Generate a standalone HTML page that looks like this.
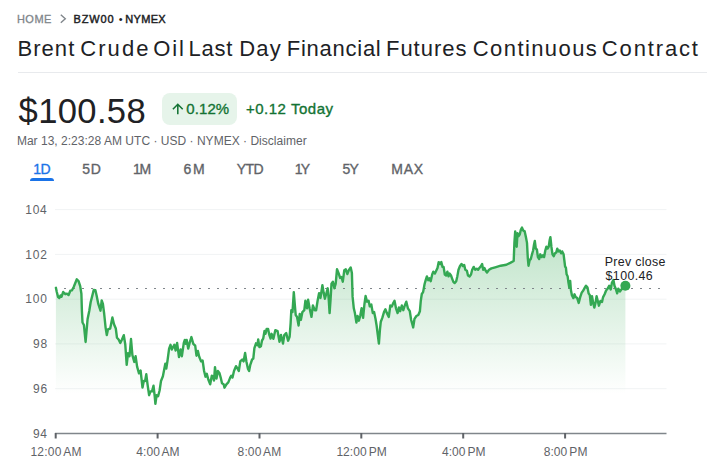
<!DOCTYPE html>
<html><head><meta charset="utf-8">
<style>
html,body{margin:0;padding:0;background:#fff;}
body{width:707px;height:472px;position:relative;overflow:hidden;font-family:"Liberation Sans",sans-serif;color:#202124;}
.abs{position:absolute;}
.t{position:absolute;white-space:pre;line-height:1;font-family:"Liberation Sans",sans-serif;}
#hr{left:18px;top:72px;width:689px;height:1px;background:#e8eaed;}
#badge{left:161.7px;top:93px;width:75.3px;height:32px;border-radius:8px;background:#e6f4ea;}
#ul{left:30px;top:178px;width:24px;height:3px;background:#1a73e8;border-radius:3px 3px 0 0;}
</style></head><body>
<div class="abs" id="hr"></div>
<div class="abs" id="badge"></div>
<div class="abs" id="ul"></div>
<svg class="abs" style="left:0;top:0" width="707" height="472" viewBox="0 0 707 472">
<defs>
<linearGradient id="g2" x1="0" y1="227" x2="0" y2="394" gradientUnits="userSpaceOnUse">
<stop offset="0" stop-color="#34a853" stop-opacity="0.33"/><stop offset="1" stop-color="#34a853" stop-opacity="0"/></linearGradient></defs>
<path d="M60.8 14.8 L65.3 18.8 L60.8 22.8" fill="none" stroke="#80868b" stroke-width="1.4"/>
<path d="M177.8 114.2 V104 M172.9 109.3 L177.8 104.3 L182.7 109.3" fill="none" stroke="#137333" stroke-width="1.55"/>
<g stroke="#f1f3f4" stroke-width="1"><line x1="55" x2="666.5" y1="209.6" y2="209.6"/><line x1="55" x2="666.5" y1="254.4" y2="254.4"/><line x1="55" x2="666.5" y1="299.2" y2="299.2"/><line x1="55" x2="666.5" y1="343.9" y2="343.9"/><line x1="55" x2="666.5" y1="388.7" y2="388.7"/></g>
<path d="M55.9,394 L55.9,287.8 L56.8,292.0 L58.1,297.1 L59.3,298.0 L60.5,295.4 L61.5,296.8 L63.2,292.0 L65.3,294.2 L67.0,293.7 L68.6,295.0 L70.3,290.7 L72.0,290.3 L73.7,287.0 L75.4,282.7 L76.8,279.3 L78.5,281.0 L80.2,286.1 L81.4,293.7 L81.9,310.7 L82.5,322.5 L83.9,325.0 L84.4,330.0 L85.6,342.0 L86.4,332.7 L87.6,319.0 L89.3,310.7 L90.7,302.0 L92.4,295.4 L93.7,290.0 L95.4,290.3 L96.6,295.4 L98.3,303.9 L100.5,310.7 L101.7,300.5 L102.9,303.9 L104.2,314.0 L105.6,327.6 L106.8,335.0 L108.0,329.3 L110.2,328.5 L112.4,317.5 L114.0,324.2 L115.8,328.5 L117.0,337.8 L118.6,339.5 L120.3,342.9 L122.0,339.5 L123.8,335.2 L125.3,344.8 L126.7,364.8 L128.0,353.3 L129.5,356.2 L131.0,339.0 L132.4,355.2 L134.3,361.9 L135.6,356.2 L137.1,366.7 L139.0,373.3 L140.6,370.5 L142.5,387.6 L143.8,381.0 L145.1,381.0 L146.3,374.3 L147.6,384.8 L149.1,395.2 L150.5,391.4 L152.0,391.4 L153.5,385.7 L154.7,396.2 L155.4,403.8 L156.6,395.2 L158.1,396.2 L159.6,390.5 L161.0,381.0 L162.9,376.2 L164.2,369.5 L165.3,363.8 L166.3,368.6 L167.6,360.0 L169.1,348.6 L170.5,344.8 L171.8,349.5 L174.3,344.8 L175.6,350.5 L177.1,342.9 L179.0,357.1 L180.6,349.5 L181.9,356.2 L183.8,342.9 L184.8,340.0 L185.7,343.8 L186.7,340.0 L188.2,348.6 L189.9,341.9 L191.4,337.1 L193.3,343.8 L195.2,345.7 L196.5,355.7 L197.9,351.0 L199.2,356.7 L201.1,361.4 L202.6,360.5 L204.1,371.0 L205.5,376.7 L206.8,373.8 L208.3,379.5 L210.2,384.3 L211.8,375.7 L213.1,376.7 L214.0,380.5 L215.0,367.1 L216.5,378.6 L217.9,371.0 L219.4,372.9 L220.7,377.6 L222.0,383.3 L223.6,384.3 L224.5,387.7 L226.4,384.3 L228.3,382.4 L230.2,377.6 L231.2,375.7 L232.5,377.6 L234.0,371.0 L236.0,366.2 L237.3,368.1 L238.8,371.0 L240.3,361.4 L242.2,359.5 L243.6,361.4 L245.1,352.9 L246.4,361.4 L248.0,369.0 L249.1,371.0 L250.2,365.2 L252.1,359.5 L253.3,358.6 L254.4,348.1 L256.0,343.3 L257.5,345.2 L258.2,339.5 L259.4,347.1 L260.9,346.2 L262.0,340.5 L263.2,338.6 L264.5,331.0 L265.5,333.8 L266.6,329.0 L268.1,329.0 L269.3,334.8 L270.6,338.6 L271.6,333.8 L273.4,338.8 L275.3,330.2 L277.6,331.2 L279.5,341.7 L281.0,335.0 L283.0,343.6 L284.3,335.0 L286.2,333.1 L288.1,340.7 L289.6,336.9 L290.6,323.6 L291.3,310.2 L292.5,312.1 L293.8,292.1 L294.8,304.5 L295.7,315.0 L297.0,316.9 L298.6,325.5 L299.7,314.0 L300.9,319.8 L302.4,312.1 L304.3,310.2 L305.4,300.7 L307.0,308.3 L308.1,299.8 L309.6,308.3 L311.5,316.9 L312.9,305.5 L314.8,310.2 L316.1,310.2 L317.6,300.7 L319.1,293.1 L320.5,297.9 L322.4,285.1 L323.7,293.1 L324.9,298.8 L326.2,294.0 L327.7,288.3 L328.7,298.8 L329.6,313.1 L330.6,298.8 L331.5,283.6 L332.9,281.7 L334.4,288.3 L335.7,283.6 L337.0,269.3 L338.6,273.1 L340.1,277.9 L341.4,276.9 L342.8,281.7 L344.3,270.2 L345.8,269.3 L347.3,274.0 L348.8,270.2 L350.7,267.4 L351.9,273.1 L352.6,296.9 L353.8,308.3 L354.9,313.1 L356.4,322.6 L357.6,316.0 L358.9,320.7 L360.2,316.0 L361.6,308.3 L363.1,317.9 L364.4,304.5 L365.6,296.0 L367.1,301.7 L368.6,300.7 L369.8,306.4 L371.3,304.5 L372.8,313.1 L374.1,312.1 L375.5,318.8 L376.6,325.5 L377.8,335.0 L378.9,343.6 L379.9,330.2 L380.8,321.7 L382.3,317.9 L384.0,312.1 L385.4,309.3 L386.9,313.1 L388.8,316.9 L390.3,305.5 L391.9,306.4 L393.0,303.6 L394.5,300.7 L396.0,308.3 L397.6,313.1 L398.9,307.4 L400.2,311.2 L401.8,305.5 L403.3,310.2 L404.8,305.5 L406.3,301.7 L407.9,308.3 L409.8,311.2 L411.1,319.8 L413.2,327.4 L414.5,318.8 L416.4,316.0 L418.3,315.0 L419.9,311.2 L420.8,300.7 L421.8,294.0 L423.1,292.1 L424.6,284.0 L425.7,280.2 L426.9,276.4 L428.2,280.2 L429.5,278.3 L430.7,281.2 L432.2,274.5 L433.3,271.7 L434.9,273.6 L436.2,270.7 L437.5,267.9 L438.7,262.1 L440.2,264.0 L441.3,262.1 L442.5,266.9 L443.6,266.9 L444.8,274.5 L446.1,275.5 L447.4,271.7 L448.6,276.4 L449.7,273.6 L451.0,275.5 L452.4,279.3 L453.5,282.1 L454.7,283.1 L456.2,281.2 L457.3,276.4 L458.5,269.8 L460.0,266.0 L461.5,264.0 L462.9,266.0 L464.2,265.0 L465.3,269.8 L466.9,270.7 L468.0,275.5 L469.5,276.4 L471.0,274.5 L472.2,269.8 L473.7,266.9 L475.2,269.8 L476.8,268.8 L478.1,269.8 L479.4,267.9 L481.0,266.0 L482.1,264.0 L483.2,269.8 L484.4,267.9 L485.7,270.7 L487.0,272.6 L489.0,269.8 L491.4,268.4 L495.2,267.3 L500.7,265.7 L506.4,264.8 L510.2,262.9 L513.7,261.0 L514.4,242.9 L515.2,231.4 L516.0,241.0 L516.7,246.7 L517.5,233.3 L518.6,236.2 L519.8,234.3 L520.9,229.5 L522.0,227.6 L523.2,230.5 L524.7,231.4 L525.9,237.1 L527.0,242.9 L527.8,258.1 L528.5,265.7 L529.7,260.0 L530.8,259.0 L532.0,254.3 L533.1,250.5 L534.0,244.8 L534.8,241.0 L535.8,248.6 L536.9,249.5 L537.9,257.1 L539.2,259.0 L540.3,254.3 L541.7,257.1 L543.0,255.2 L544.1,257.1 L545.3,250.5 L546.4,246.7 L547.6,248.6 L548.7,246.7 L549.7,240.0 L550.4,237.1 L551.4,246.7 L552.5,254.3 L553.7,256.2 L555.0,253.3 L556.3,252.4 L557.3,248.6 L558.4,251.4 L559.8,250.5 L561.1,253.3 L562.2,251.4 L563.6,254.3 L564.3,260.0 L565.1,266.7 L565.9,267.6 L566.6,274.3 L567.6,276.2 L568.5,282.9 L569.3,287.6 L570.2,281.0 L570.9,290.0 L571.9,295.2 L573.4,298.1 L574.5,294.3 L575.7,297.1 L577.2,298.1 L578.7,302.9 L580.2,297.1 L581.8,292.4 L583.3,290.5 L584.8,287.6 L586.0,285.7 L587.5,287.6 L588.6,293.3 L589.8,295.2 L590.9,304.8 L592.0,296.2 L593.2,302.9 L594.3,307.6 L595.5,302.9 L596.6,296.2 L597.8,301.0 L598.9,305.7 L600.4,301.0 L602.0,301.9 L603.1,297.1 L604.6,294.3 L606.1,290.5 L607.7,288.6 L609.2,285.7 L610.7,289.5 L611.9,282.9 L613.4,280.0 L614.5,285.7 L615.7,288.6 L617.2,293.3 L618.3,288.6 L619.9,291.4 L621.4,289.5 L622.9,287.6 L625.0,285.7 L625.4,285.7 L625.4,394 Z" fill="url(#g2)"/>
<line x1="55" x2="666" y1="288.5" y2="288.5" stroke="#80868b" stroke-width="1" stroke-dasharray="2 7" />
<line x1="55" x2="666.5" y1="433.5" y2="433.5" stroke="#80868b" stroke-width="1.4"/>
<g stroke="#5f6368" stroke-width="2"><line x1="55.7" x2="55.7" y1="433" y2="438.5"/><line x1="157.6" x2="157.6" y1="433" y2="438.5"/><line x1="259.5" x2="259.5" y1="433" y2="438.5"/><line x1="361.3" x2="361.3" y1="433" y2="438.5"/><line x1="463.2" x2="463.2" y1="433" y2="438.5"/><line x1="565.1" x2="565.1" y1="433" y2="438.5"/></g>
<polyline points="55.9,287.8 56.8,292.0 58.1,297.1 59.3,298.0 60.5,295.4 61.5,296.8 63.2,292.0 65.3,294.2 67.0,293.7 68.6,295.0 70.3,290.7 72.0,290.3 73.7,287.0 75.4,282.7 76.8,279.3 78.5,281.0 80.2,286.1 81.4,293.7 81.9,310.7 82.5,322.5 83.9,325.0 84.4,330.0 85.6,342.0 86.4,332.7 87.6,319.0 89.3,310.7 90.7,302.0 92.4,295.4 93.7,290.0 95.4,290.3 96.6,295.4 98.3,303.9 100.5,310.7 101.7,300.5 102.9,303.9 104.2,314.0 105.6,327.6 106.8,335.0 108.0,329.3 110.2,328.5 112.4,317.5 114.0,324.2 115.8,328.5 117.0,337.8 118.6,339.5 120.3,342.9 122.0,339.5 123.8,335.2 125.3,344.8 126.7,364.8 128.0,353.3 129.5,356.2 131.0,339.0 132.4,355.2 134.3,361.9 135.6,356.2 137.1,366.7 139.0,373.3 140.6,370.5 142.5,387.6 143.8,381.0 145.1,381.0 146.3,374.3 147.6,384.8 149.1,395.2 150.5,391.4 152.0,391.4 153.5,385.7 154.7,396.2 155.4,403.8 156.6,395.2 158.1,396.2 159.6,390.5 161.0,381.0 162.9,376.2 164.2,369.5 165.3,363.8 166.3,368.6 167.6,360.0 169.1,348.6 170.5,344.8 171.8,349.5 174.3,344.8 175.6,350.5 177.1,342.9 179.0,357.1 180.6,349.5 181.9,356.2 183.8,342.9 184.8,340.0 185.7,343.8 186.7,340.0 188.2,348.6 189.9,341.9 191.4,337.1 193.3,343.8 195.2,345.7 196.5,355.7 197.9,351.0 199.2,356.7 201.1,361.4 202.6,360.5 204.1,371.0 205.5,376.7 206.8,373.8 208.3,379.5 210.2,384.3 211.8,375.7 213.1,376.7 214.0,380.5 215.0,367.1 216.5,378.6 217.9,371.0 219.4,372.9 220.7,377.6 222.0,383.3 223.6,384.3 224.5,387.7 226.4,384.3 228.3,382.4 230.2,377.6 231.2,375.7 232.5,377.6 234.0,371.0 236.0,366.2 237.3,368.1 238.8,371.0 240.3,361.4 242.2,359.5 243.6,361.4 245.1,352.9 246.4,361.4 248.0,369.0 249.1,371.0 250.2,365.2 252.1,359.5 253.3,358.6 254.4,348.1 256.0,343.3 257.5,345.2 258.2,339.5 259.4,347.1 260.9,346.2 262.0,340.5 263.2,338.6 264.5,331.0 265.5,333.8 266.6,329.0 268.1,329.0 269.3,334.8 270.6,338.6 271.6,333.8 273.4,338.8 275.3,330.2 277.6,331.2 279.5,341.7 281.0,335.0 283.0,343.6 284.3,335.0 286.2,333.1 288.1,340.7 289.6,336.9 290.6,323.6 291.3,310.2 292.5,312.1 293.8,292.1 294.8,304.5 295.7,315.0 297.0,316.9 298.6,325.5 299.7,314.0 300.9,319.8 302.4,312.1 304.3,310.2 305.4,300.7 307.0,308.3 308.1,299.8 309.6,308.3 311.5,316.9 312.9,305.5 314.8,310.2 316.1,310.2 317.6,300.7 319.1,293.1 320.5,297.9 322.4,285.1 323.7,293.1 324.9,298.8 326.2,294.0 327.7,288.3 328.7,298.8 329.6,313.1 330.6,298.8 331.5,283.6 332.9,281.7 334.4,288.3 335.7,283.6 337.0,269.3 338.6,273.1 340.1,277.9 341.4,276.9 342.8,281.7 344.3,270.2 345.8,269.3 347.3,274.0 348.8,270.2 350.7,267.4 351.9,273.1 352.6,296.9 353.8,308.3 354.9,313.1 356.4,322.6 357.6,316.0 358.9,320.7 360.2,316.0 361.6,308.3 363.1,317.9 364.4,304.5 365.6,296.0 367.1,301.7 368.6,300.7 369.8,306.4 371.3,304.5 372.8,313.1 374.1,312.1 375.5,318.8 376.6,325.5 377.8,335.0 378.9,343.6 379.9,330.2 380.8,321.7 382.3,317.9 384.0,312.1 385.4,309.3 386.9,313.1 388.8,316.9 390.3,305.5 391.9,306.4 393.0,303.6 394.5,300.7 396.0,308.3 397.6,313.1 398.9,307.4 400.2,311.2 401.8,305.5 403.3,310.2 404.8,305.5 406.3,301.7 407.9,308.3 409.8,311.2 411.1,319.8 413.2,327.4 414.5,318.8 416.4,316.0 418.3,315.0 419.9,311.2 420.8,300.7 421.8,294.0 423.1,292.1 424.6,284.0 425.7,280.2 426.9,276.4 428.2,280.2 429.5,278.3 430.7,281.2 432.2,274.5 433.3,271.7 434.9,273.6 436.2,270.7 437.5,267.9 438.7,262.1 440.2,264.0 441.3,262.1 442.5,266.9 443.6,266.9 444.8,274.5 446.1,275.5 447.4,271.7 448.6,276.4 449.7,273.6 451.0,275.5 452.4,279.3 453.5,282.1 454.7,283.1 456.2,281.2 457.3,276.4 458.5,269.8 460.0,266.0 461.5,264.0 462.9,266.0 464.2,265.0 465.3,269.8 466.9,270.7 468.0,275.5 469.5,276.4 471.0,274.5 472.2,269.8 473.7,266.9 475.2,269.8 476.8,268.8 478.1,269.8 479.4,267.9 481.0,266.0 482.1,264.0 483.2,269.8 484.4,267.9 485.7,270.7 487.0,272.6 489.0,269.8 491.4,268.4 495.2,267.3 500.7,265.7 506.4,264.8 510.2,262.9 513.7,261.0 514.4,242.9 515.2,231.4 516.0,241.0 516.7,246.7 517.5,233.3 518.6,236.2 519.8,234.3 520.9,229.5 522.0,227.6 523.2,230.5 524.7,231.4 525.9,237.1 527.0,242.9 527.8,258.1 528.5,265.7 529.7,260.0 530.8,259.0 532.0,254.3 533.1,250.5 534.0,244.8 534.8,241.0 535.8,248.6 536.9,249.5 537.9,257.1 539.2,259.0 540.3,254.3 541.7,257.1 543.0,255.2 544.1,257.1 545.3,250.5 546.4,246.7 547.6,248.6 548.7,246.7 549.7,240.0 550.4,237.1 551.4,246.7 552.5,254.3 553.7,256.2 555.0,253.3 556.3,252.4 557.3,248.6 558.4,251.4 559.8,250.5 561.1,253.3 562.2,251.4 563.6,254.3 564.3,260.0 565.1,266.7 565.9,267.6 566.6,274.3 567.6,276.2 568.5,282.9 569.3,287.6 570.2,281.0 570.9,290.0 571.9,295.2 573.4,298.1 574.5,294.3 575.7,297.1 577.2,298.1 578.7,302.9 580.2,297.1 581.8,292.4 583.3,290.5 584.8,287.6 586.0,285.7 587.5,287.6 588.6,293.3 589.8,295.2 590.9,304.8 592.0,296.2 593.2,302.9 594.3,307.6 595.5,302.9 596.6,296.2 597.8,301.0 598.9,305.7 600.4,301.0 602.0,301.9 603.1,297.1 604.6,294.3 606.1,290.5 607.7,288.6 609.2,285.7 610.7,289.5 611.9,282.9 613.4,280.0 614.5,285.7 615.7,288.6 617.2,293.3 618.3,288.6 619.9,291.4 621.4,289.5 622.9,287.6 625.0,285.7" fill="none" stroke="#34a853" stroke-width="2.4" stroke-linejoin="round" stroke-linecap="round"/>
<circle cx="625.4" cy="285.8" r="5" fill="#34a853"/>
</svg>
<div class="t" style="left:16.90px;top:13.76px;font-size:11px;font-weight:normal;letter-spacing:0.500px;color:#80868b;-webkit-text-stroke:0.3px #80868b;">HOME</div>
<div class="t" style="left:73.45px;top:13.76px;font-size:11px;font-weight:normal;letter-spacing:0.863px;color:#202124;-webkit-text-stroke:0.45px #202124;">BZW00</div>
<div class="t" style="left:118.80px;top:13.76px;font-size:11px;font-weight:normal;letter-spacing:0.000px;color:#202124;">•</div>
<div class="t" style="left:125.35px;top:13.76px;font-size:11px;font-weight:normal;letter-spacing:0.300px;color:#202124;-webkit-text-stroke:0.45px #202124;">NYMEX</div>
<div class="t" style="left:17.45px;top:37.53px;font-size:22px;font-weight:normal;letter-spacing:1.062px;color:#202124;">Brent</div>
<div class="t" style="left:80.30px;top:37.53px;font-size:22px;font-weight:normal;letter-spacing:2.050px;color:#202124;">Crude</div>
<div class="t" style="left:153.30px;top:37.53px;font-size:22px;font-weight:normal;letter-spacing:1.800px;color:#202124;">Oil</div>
<div class="t" style="left:188.45px;top:37.53px;font-size:22px;font-weight:normal;letter-spacing:0.783px;color:#202124;">Last</div>
<div class="t" style="left:239.25px;top:37.53px;font-size:22px;font-weight:normal;letter-spacing:1.225px;color:#202124;">Day</div>
<div class="t" style="left:286.75px;top:37.53px;font-size:22px;font-weight:normal;letter-spacing:0.744px;color:#202124;">Financial</div>
<div class="t" style="left:385.95px;top:37.53px;font-size:22px;font-weight:normal;letter-spacing:1.000px;color:#202124;">Futures</div>
<div class="t" style="left:472.80px;top:37.53px;font-size:22px;font-weight:normal;letter-spacing:1.411px;color:#202124;">Continuous</div>
<div class="t" style="left:601.80px;top:37.53px;font-size:22px;font-weight:normal;letter-spacing:1.857px;color:#202124;">Contract</div>
<div class="t" style="left:18.60px;top:94.26px;font-size:34.6px;font-weight:normal;letter-spacing:0.350px;color:#202124;">$100.58</div>
<div class="t" style="left:186.20px;top:100.84px;font-size:15px;font-weight:normal;letter-spacing:0.113px;color:#137333;-webkit-text-stroke:0.35px #137333;">0.12%</div>
<div class="t" style="left:245.90px;top:101.04px;font-size:15px;font-weight:normal;letter-spacing:0.530px;color:#137333;-webkit-text-stroke:0.35px #137333;">+0.12 Today</div>
<div class="t" style="left:16.90px;top:134.73px;font-size:12px;font-weight:normal;letter-spacing:0.021px;color:#5f6368;">Mar 13, 2:23:28 AM UTC · USD · NYMEX · Disclaimer</div>
<div class="t" style="left:33.30px;top:162.47px;font-size:14px;font-weight:normal;letter-spacing:-0.650px;color:#1a73e8;-webkit-text-stroke:0.35px #1a73e8;">1D</div>
<div class="t" style="left:82.20px;top:162.47px;font-size:14px;font-weight:normal;letter-spacing:0.750px;color:#5f6368;-webkit-text-stroke:0.35px #5f6368;">5D</div>
<div class="t" style="left:132.90px;top:162.47px;font-size:14px;font-weight:normal;letter-spacing:-1.100px;color:#5f6368;-webkit-text-stroke:0.35px #5f6368;">1M</div>
<div class="t" style="left:183.50px;top:162.47px;font-size:14px;font-weight:normal;letter-spacing:1.800px;color:#5f6368;-webkit-text-stroke:0.35px #5f6368;">6M</div>
<div class="t" style="left:236.65px;top:162.47px;font-size:14px;font-weight:normal;letter-spacing:-0.575px;color:#5f6368;-webkit-text-stroke:0.35px #5f6368;">YTD</div>
<div class="t" style="left:294.70px;top:162.47px;font-size:14px;font-weight:normal;letter-spacing:-1.800px;color:#5f6368;-webkit-text-stroke:0.35px #5f6368;">1Y</div>
<div class="t" style="left:342.40px;top:162.47px;font-size:14px;font-weight:normal;letter-spacing:-0.700px;color:#5f6368;-webkit-text-stroke:0.35px #5f6368;">5Y</div>
<div class="t" style="left:391.20px;top:162.47px;font-size:14px;font-weight:normal;letter-spacing:0.825px;color:#5f6368;-webkit-text-stroke:0.35px #5f6368;">MAX</div>
<div class="t" style="left:25.20px;top:203.93px;font-size:12px;font-weight:normal;letter-spacing:0.775px;color:#5f6368;">104</div>
<div class="t" style="left:25.20px;top:248.71px;font-size:12px;font-weight:normal;letter-spacing:0.900px;color:#5f6368;">102</div>
<div class="t" style="left:25.20px;top:293.49px;font-size:12px;font-weight:normal;letter-spacing:0.900px;color:#5f6368;">100</div>
<div class="t" style="left:33.00px;top:338.27px;font-size:12px;font-weight:normal;letter-spacing:0.750px;color:#5f6368;">98</div>
<div class="t" style="left:33.00px;top:383.05px;font-size:12px;font-weight:normal;letter-spacing:0.750px;color:#5f6368;">96</div>
<div class="t" style="left:33.00px;top:427.83px;font-size:12px;font-weight:normal;letter-spacing:0.500px;color:#5f6368;">94</div>
<div class="t" style="left:30.50px;top:446.23px;font-size:12px;font-weight:normal;letter-spacing:0.200px;color:#5f6368;word-spacing:-1.2px;">12:00 AM</div>
<div class="t" style="left:136.25px;top:446.23px;font-size:12px;font-weight:normal;letter-spacing:0.083px;color:#5f6368;word-spacing:-1.2px;">4:00 AM</div>
<div class="t" style="left:237.60px;top:446.23px;font-size:12px;font-weight:normal;letter-spacing:0.125px;color:#5f6368;word-spacing:-1.2px;">8:00 AM</div>
<div class="t" style="left:336.40px;top:446.23px;font-size:12px;font-weight:normal;letter-spacing:0.036px;color:#5f6368;word-spacing:-1.2px;">12:00 PM</div>
<div class="t" style="left:442.05px;top:446.23px;font-size:12px;font-weight:normal;letter-spacing:-0.025px;color:#5f6368;word-spacing:-1.2px;">4:00 PM</div>
<div class="t" style="left:543.80px;top:446.23px;font-size:12px;font-weight:normal;letter-spacing:0.017px;color:#5f6368;word-spacing:-1.2px;">8:00 PM</div>
<div class="t" style="left:604.80px;top:255.60px;font-size:12.4px;font-weight:normal;letter-spacing:0.294px;color:#202124;">Prev close</div>
<div class="t" style="left:605.55px;top:270.10px;font-size:12.4px;font-weight:normal;letter-spacing:0.400px;color:#202124;">$100.46</div>
</body></html>
